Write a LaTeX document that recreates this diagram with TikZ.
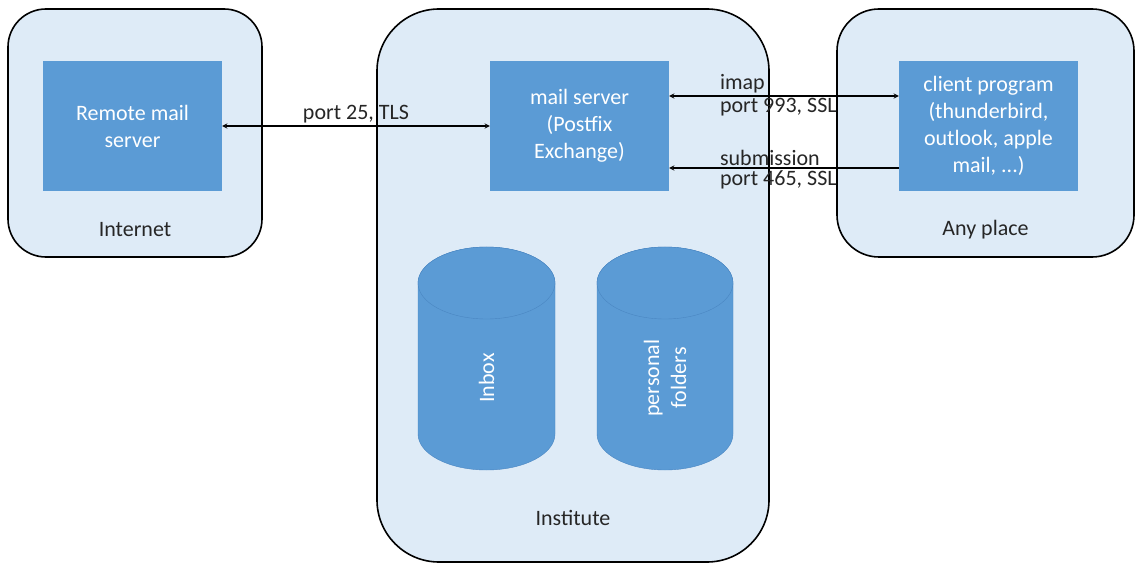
\documentclass[tikz,border=0pt]{standalone}
\usepackage{fontspec}
\setmainfont{Carlito}
\usepackage{tikz}
\usetikzlibrary{arrows}
\definecolor{zonefill}{HTML}{DEEBF7}
\definecolor{boxblue}{HTML}{5B9BD5}
\definecolor{capline}{HTML}{4A86C2}
\definecolor{txt}{HTML}{262626}
\tikzset{every node/.style={font=\fontsize{22}{27}\selectfont, text=txt}}
\tikzset{zone/.style={draw=black, line width=1.6, fill=zonefill, rounded corners=#1}}
\tikzset{zone/.default=40}
\tikzset{server/.style={fill=boxblue, text=white, align=center, minimum width=179, minimum height=130}}
\tikzset{drum/.style={fill=boxblue, draw=capline, thin}}
\tikzset{drumtext/.style={rotate=90, text=white, align=center}}
\tikzset{link/.style={line width=1.3, >=stealth}}
\tikzset{lbl/.style={inner sep=2pt}}

\begin{document}
\begin{tikzpicture}[x=1pt, y=-1pt]
\useasboundingbox (0,0) rectangle (1138,564);
\node (internet) at (135,133)[zone=38, minimum width=254, minimum height=248]{};
\node (institute) at (573,285.5)[zone=62, minimum width=392, minimum height=553]{};
\node (anyplace) at (985.5,133)[zone=42, minimum width=297, minimum height=248]{};

\node (internetlbl) at (135,230){Internet};
\node (institutelbl) at (573,518){Institute};
\node (anyplacelbl) at (985.5,230){Any place};

\node (remote) at (132.5,126)[server]{Remote mail\\server};
\node (mail) at (579.5,126)[server]{mail server\\(Postfix\\Exchange)};
\node (client) at (988.5,126)[server]{client program\\(thunderbird,\\outlook, apple\\mail, ...)};

%the two stores
\draw[drum] (418,283) -- (418,434) arc (180:0:68.5 and 36) -- (555,283) arc (0:-180:68.5 and 36) -- cycle;
\draw[drum] (486.5,283) ellipse (68.5 and 36);
\draw[drum] (597,283) -- (597,434) arc (180:0:68 and 36) -- (733,283) arc (0:-180:68 and 36) -- cycle;
\draw[drum] (665,283) ellipse (68 and 36);
\node (inbox) at (486.5,378)[drumtext]{Inbox};
\node (folders) at (665,378)[drumtext]{personal\\folders};

%connections
\draw[link, <->] (remote) -- node[lbl, above]{port 25, TLS} (mail);
\draw[link, <->] ([yshift=30]mail.east) -- node[lbl, pos=0.21, anchor=south west]{imap}
  node[lbl, pos=0.21, anchor=north west]{port 993, SSL} ([yshift=30]client.west);
\draw[link, ->] ([yshift=-42]client.west) -- node[lbl, pos=0.79, anchor=south west]{submission}
  node[lbl, pos=0.79, anchor=north west]{port 465, SSL} ([yshift=-42]mail.east);

\end{tikzpicture}
\end{document}
